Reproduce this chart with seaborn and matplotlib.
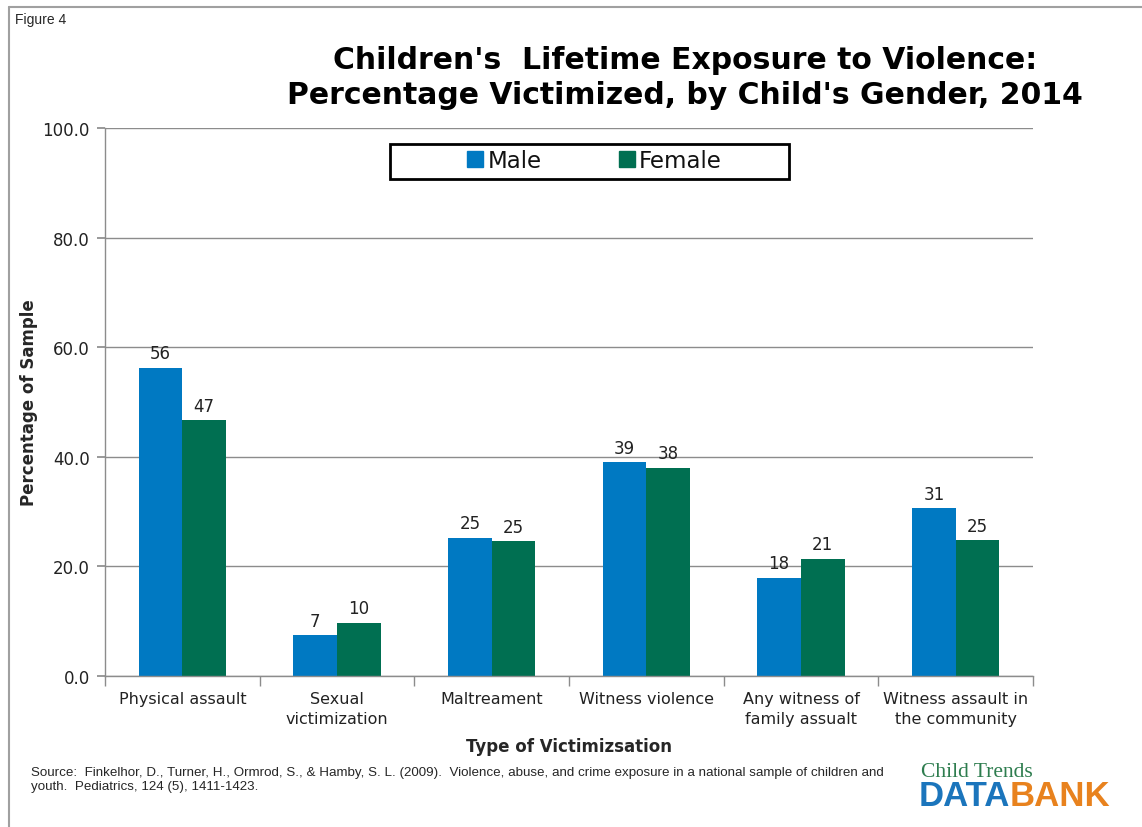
import matplotlib
matplotlib.use("Agg")
import matplotlib.pyplot as plt
import seaborn as sns
import pandas as pd
from matplotlib.patches import Rectangle
from matplotlib.lines import Line2D

categories = ["Physical assault", "Sexual\nvictimization", "Maltreament",
              "Witness violence", "Any witness of\nfamily assualt",
              "Witness assault in\nthe community"]
male = [56.2, 7.4, 25.2, 39.0, 17.9, 30.6]
female = [46.7, 9.7, 24.6, 38.0, 21.4, 24.8]
series = ["Male", "Female"]
colors = ["#0079C2", "#006F51"]
yticks = [0, 20, 40, 60, 80, 100]

sns.set_theme(style="white")
plt.rcParams['font.family'] = ['DejaVu Sans']

df = pd.DataFrame({
    "cat": categories * 2,
    "val": male + female,
    "sex": ["Male"] * len(categories) + ["Female"] * len(categories),
})

W, H = 1142, 828
fig = plt.figure(figsize=(W / 100, H / 100), dpi=100)
ax_l, ax_r, ax_t, ax_b = 105, 1033, 129, 677
ax = fig.add_axes([ax_l / W, 1 - ax_b / H, (ax_r - ax_l) / W, (ax_b - ax_t) / H])

sns.barplot(data=df, x="cat", y="val", hue="sex", hue_order=series,
            palette=colors, width=0.565, saturation=1, ax=ax, legend=False,
            edgecolor="none")

for cont in ax.containers:
    ax.bar_label(cont, fmt="%.0f", padding=4, fontsize=12, color="#222222")

ax.set_ylim(0, 100)
ax.set_xlim(-0.5, len(categories) - 0.5)
ax.set_yticks(yticks)
ax.set_yticklabels([f"{v:.1f}" for v in yticks], fontsize=12, color="#222222")
ax.yaxis.grid(True, color="#8c8c8c", linewidth=1)
ax.set_axisbelow(True)
ax.set_xticks(range(len(categories)))
ax.set_xticklabels(categories, fontsize=11.5, color="#222222", linespacing=1.4)
ax.tick_params(axis="x", length=0, pad=11)
ax.tick_params(axis="y", length=6, color="#8c8c8c", direction="out", left=True, pad=5)
ax.set_xticks([i - 0.5 for i in range(len(categories) + 1)], minor=True)
ax.tick_params(axis="x", which="minor", length=7, color="#8c8c8c", direction="out", bottom=True)

for s in ["top", "right"]:
    ax.spines[s].set_visible(False)
for s in ["left", "bottom"]:
    ax.spines[s].set_color("#8c8c8c")
    ax.spines[s].set_linewidth(1)

ax.set_ylabel("Percentage of Sample", fontsize=12, fontweight="bold")
ax.yaxis.set_label_coords((38 - ax_l) / (ax_r - ax_l), 0.5)
ax.set_xlabel("Type of Victimizsation", fontsize=12, fontweight="bold", labelpad=8)


def ax_x(px):
    return (px - ax_l) / (ax_r - ax_l)


def ax_y(py):
    return (ax_b - py) / (ax_b - ax_t)


ax.add_patch(Rectangle((ax_x(390), ax_y(180)), ax_x(789) - ax_x(390), ax_y(145) - ax_y(180),
                       transform=ax.transAxes, facecolor="white", edgecolor="black",
                       linewidth=2, zorder=5, clip_on=False))
handles = [Line2D([0], [0], marker="s", linestyle="none", markersize=11,
                  markerfacecolor=c, markeredgecolor=c) for c in colors]
leg = ax.legend(handles, series, loc="center", bbox_to_anchor=(ax_x(594), ax_y(162)),
                ncol=2, fontsize=16.5, frameon=False,
                handletextpad=0.15, columnspacing=3.3, borderpad=0.2,
                handlelength=0.8)
leg.set_zorder(6)
for t in leg.get_texts():
    t.set_color("#111111")

fig.text(0.600, 1 - 78 / H, "Children's  Lifetime Exposure to Violence:\nPercentage Victimized, by Child's Gender, 2014",
         ha="center", va="center", fontsize=21.5, fontweight="bold",
         linespacing=1.25, color="black")

fig.text(0.013, 1 - 20 / H, "Figure 4", fontsize=10, ha="left", va="center",
         family=["Liberation Sans", "DejaVu Sans"])

fig.text(0.027, 1 - 780 / H, "Source:  Finkelhor, D., Turner, H., Ormrod, S., & Hamby, S. L. (2009).  Violence, abuse, and crime exposure in a national sample of children and\nyouth.  Pediatrics, 124 (5), 1411-1423.",
         fontsize=9.6, ha="left", va="center", linespacing=1.3,
         family=["Liberation Sans Narrow", "Liberation Sans", "DejaVu Sans"])

# logo as text
fig.text(921 / W, 1 - 773 / H, "Child Trends", fontsize=15.5, color="#2E7D4F",
         ha="left", va="center", family=["Liberation Serif", "DejaVu Serif"])
fig.text(1010 / W, 1 - 797 / H, "DATA", fontsize=25, color="#1B75BC", fontweight="bold",
         ha="right", va="center", family=["Liberation Sans", "DejaVu Sans"])
fig.text(1010 / W, 1 - 797 / H, "BANK", fontsize=25, color="#E8821E", fontweight="bold",
         ha="left", va="center", family=["Liberation Sans", "DejaVu Sans"])

# outer frame lines (top and left)
fig.add_artist(Line2D([0.008, 1.0], [0.990, 0.990], color="#a0a0a0", linewidth=1.5,
                      transform=fig.transFigure))
fig.add_artist(Line2D([0.008, 0.008], [0.0, 0.990], color="#a0a0a0", linewidth=1.5,
                      transform=fig.transFigure))

fig.savefig("out.png", dpi=100, facecolor="white")
